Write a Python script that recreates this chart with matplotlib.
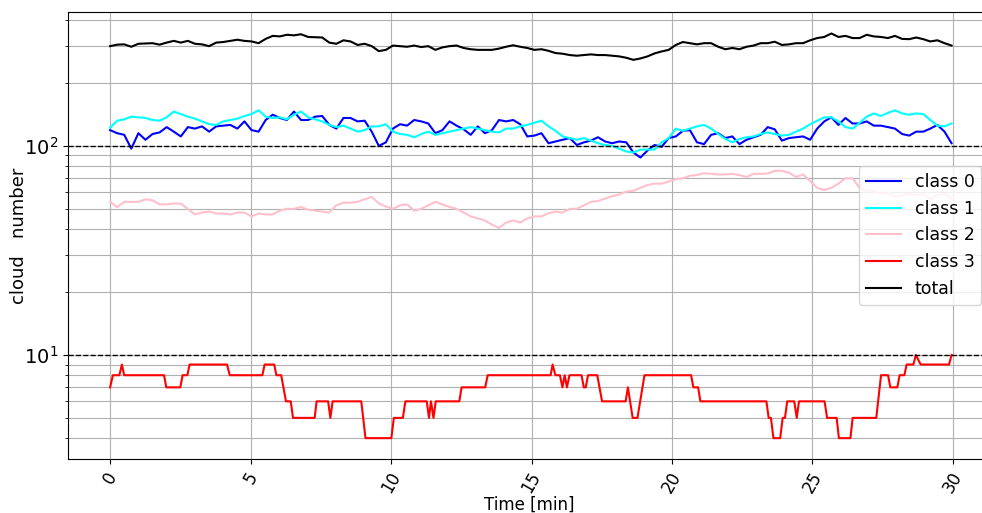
import numpy as np
import matplotlib
matplotlib.use('Agg')
import matplotlib.pyplot as plt

# sample times (min) for the noisy series
time = np.linspace(0, 29.95, 120)

class0 = [119, 115, 113, 97, 115, 107, 114, 116, 123, 117, 111, 123, 121, 124, 117, 124, 125, 126, 121, 131,
          119, 117, 133, 141, 136, 133, 146, 133,
          133, 138, 139, 126, 121, 136, 136, 131, 132, 117, 100, 104, 121, 127, 125, 133, 131, 128, 115, 119,
          131, 125, 120, 113, 124, 115,
          119, 133, 131, 133, 127, 111, 112, 115, 103, 105, 107, 109, 101, 104, 106, 110, 105, 103, 105, 104,
          93, 88, 95, 101, 99, 109,
          111, 118, 119, 104, 102, 113, 115, 109, 111, 102, 107, 110, 113, 123, 120, 106, 109, 110, 111, 107,
          121, 131, 137, 126, 136, 128, 128, 131,
          125, 125, 123, 121, 114, 112, 117, 117, 121, 126, 117, 103]

class1 = [122, 132, 134, 138, 137, 136, 133, 132, 137, 146, 142, 138, 135, 131, 127, 126, 131, 133, 135, 139,
          142, 148, 138, 136, 137, 134, 141, 146,
          137, 134, 131, 126, 123, 125, 121, 117, 119, 124, 124, 127, 117, 114, 113, 110, 114, 117, 113, 115,
          117, 119, 121, 123, 121, 119,
          117, 116, 121, 121, 124, 126, 129, 132, 124, 118, 111, 109, 107, 109, 106, 103, 101, 100, 97, 94,
          93, 96, 96, 96, 104, 109,
          121, 118, 121, 124, 126, 121, 114, 108, 104, 108, 110, 111, 114, 116, 114, 112, 113, 117, 121, 127,
          132, 137, 137, 131, 123, 121, 129, 138,
          143, 139, 144, 148, 143, 141, 143, 142, 133, 125, 124, 128]

class2 = [54, 51, 54, 54, 54, 55.5, 55, 52.5, 52.5, 53, 53, 50, 47, 48, 48.5, 47.5, 47.5, 47, 48, 48,
          46, 47.5, 47, 47, 49, 50,
          50, 51, 49.5, 49, 48.5, 48, 52, 53.5, 53.5, 54, 55.5, 57, 53, 51.3, 50, 52, 52.5, 49, 50, 52,
          54, 52.5, 51, 50, 48, 46, 45, 44,
          42, 40.5, 43, 44, 43, 45, 46, 46, 47.6, 48.5, 48, 50, 50, 52, 54, 54.5, 56, 57.5, 58.5, 60.5,
          61, 63, 65, 66, 66, 67.5, 69.5, 70,
          72, 72.5, 74, 73.5, 73, 73, 73.5, 72.5, 71, 73.5, 73.5, 73.8, 76, 76, 74.5, 71, 73, 68, 63, 61.5,
          63, 66, 70, 70, 63, 61,
          61, 59, 60, 57, 58, 59, 58, 59, 56, 58, 59, 56]

total = [300, 305, 306, 298, 308, 309, 310, 305, 312, 318, 312, 318, 308, 306, 300, 312, 314, 318, 322, 318,
         316, 310, 325, 336, 334, 340, 338, 342,
         332, 331, 330, 312, 308, 320, 316, 304, 308, 300, 284, 288, 302, 300, 298, 302, 297, 300, 288, 296,
         300, 302, 294, 290, 288, 288,
         288, 292, 298, 303, 298, 294, 288, 290, 285, 278, 276, 272, 270, 272, 274, 272, 272, 270, 268, 264,
         258, 262, 268, 277, 283, 288,
         304, 314, 310, 306, 310, 310, 298, 290, 294, 290, 298, 302, 310, 310, 315, 304, 306, 310, 310, 320,
         328, 332, 345, 332,
         336, 328, 328, 340, 334, 332, 328, 336, 325, 324, 330, 324, 316, 320, 310, 302]

# class 3 only changes in integer steps, so keep its corner points
class3Time = [0, 0.1, 0.33, 0.42, 0.5, 1.92, 2.0, 2.5, 2.58, 2.75, 2.83, 4.16, 4.26, 5.42, 5.5, 5.84, 5.92,
              6.09, 6.26, 6.43, 6.51, 7.28, 7.35, 7.76, 7.84, 7.92, 8.94, 9.09, 10.01, 10.1, 10.42, 10.51,
              11.27, 11.35, 11.42, 11.51, 11.59, 12.43, 12.51, 13.35, 13.44, 15.68, 15.75, 15.85, 16.01,
              16.1, 16.18, 16.26, 16.35, 16.78, 16.86, 16.93, 17.01, 17.34, 17.51, 18.35, 18.43, 18.6,
              18.77, 19.02, 20.68, 20.76, 20.93, 21.01, 23.36, 23.44, 23.52, 23.61, 23.85, 23.94, 24.02,
              24.1, 24.35, 24.44, 24.52, 25.43, 25.52, 25.86, 25.94, 26.35, 26.43, 27.27, 27.44, 27.69,
              27.77, 28.02, 28.1, 28.27, 28.35, 28.59, 28.68, 28.85, 29.86, 29.95]
class3 = [7, 8, 8, 9, 8, 8, 7, 7, 8, 8, 9, 9, 8, 8, 9, 9, 8, 8, 6, 6, 5, 5, 6, 6, 5, 6, 6, 4, 4, 5,
          5, 6, 6, 5, 6, 5, 6, 6, 7, 7, 8, 8, 9, 8, 8, 7, 8, 7, 8, 8, 7, 7, 8, 8, 6, 6, 7, 5, 5, 8,
          8, 7, 7, 6, 6, 5, 5, 4, 4, 5, 5, 6, 6, 5, 6, 6, 5, 5, 4, 4, 5, 5, 8, 8, 7, 7, 8, 8, 9, 9,
          10, 9, 9, 10]

fig = plt.figure(figsize=(9.82, 5.13), dpi=100)
# the right edge of the axes runs a little past the picture, as in the original
ax = fig.add_axes([0.0692, 0.1053, 0.939, 0.8713])

ax.plot(time, class0, color='blue', label='class 0')
ax.plot(time, class1, color='cyan', label='class 1')
ax.plot(time, class2, color='pink', label='class 2')
ax.plot(class3Time, class3, color='red', label='class 3')
ax.plot(time, total, color='black', label='total')

ax.axhline(100, color='black', linestyle='--', linewidth=1)
ax.axhline(10, color='black', linestyle='--', linewidth=1)

ax.set_yscale('log')
ax.set_xlim(-1.5, 31.32)
ax.set_ylim(3.18, 437)
ax.grid(which='both')

plt.xticks(rotation=60, fontsize=12)
plt.yticks(fontsize=14)
ax.set_xlabel('Time [min]', fontsize=12, labelpad=0)
ax.set_ylabel('cloud   number', fontsize=13, labelpad=-3)
ax.legend(loc='center right', fontsize=12.5)

fig.savefig('out.png', dpi=100)
